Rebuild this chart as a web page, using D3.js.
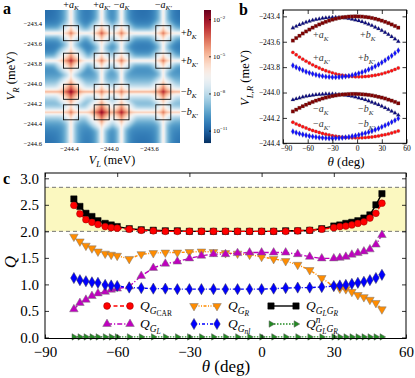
<!DOCTYPE html>
<html lang="en">
<head>
<meta charset="UTF-8">
<script src="https://cdn.jsdelivr.net/npm/d3@7"></script>
<style>
    body { margin: 0; background: #fff; }
    svg { display: block; font-family: 'Liberation Serif', serif; }
    .tick line { stroke: #000; stroke-width: 0.8; }
</style>
</head>
<body>
<svg id="fig" width="415" height="378"></svg>
<script>
// ---- panel a: resonance lines (meV) and spot strengths ----
var aPos = [-244.38, -244.073, -243.875, -243.457];
var bPos = [-243.502, -243.777, -244.088, -244.293];
var aWeight = [6e-7, 4e-7, 3e-7, 3e-7];
var bWeight = [3e-7, 3e-7, 1e-5, 3e-6];
// rows follow bPos, columns follow aPos
var spotPeak = [
    [1e-4, 3e-4, 1e-4, 1e-4],
    [2e-3, 1e-4, 1e-4, 1e-4],
    [1e-2, 1e-4, 1e-4, 2e-3],
    [1e-4, 1e-2, 3e-3, 1e-4]
];
var floorLevel = 1.5e-11;
var aTicksX = [-244.4, -244.0, -243.6];
var aTicksY = [-243.4, -243.6, -243.8, -244.0, -244.2, -244.4, -244.6];
var cbarTicks = [-2, -5, -8, -11];

// ---- panel b: V_{L,R} vs theta ----
var thetaB = [-78,-74,-70,-66,-62,-58,-54,-50,-46,-42,-38,-34,-30,-26,-22,-18,-14,-10,-6,-2,2,6,10,14,18,22,26,30,34,38,42,46,50];
var navyUp = [-243.491,-243.479,-243.467,-243.457,-243.447,-243.439,-243.431,-243.425,-243.420,-243.415,-243.412,-243.410,-243.408,-243.408,-243.409,-243.411,-243.413,-243.417,-243.422,-243.428,-243.435,-243.443,-243.452,-243.462,-243.473,-243.485,-243.498,-243.512,-243.527,-243.543,-243.560,-243.579,-243.598];
var darkUp = [-243.591,-243.571,-243.553,-243.535,-243.519,-243.504,-243.489,-243.476,-243.464,-243.453,-243.443,-243.434,-243.426,-243.419,-243.413,-243.408,-243.405,-243.402,-243.401,-243.400,-243.401,-243.402,-243.405,-243.408,-243.413,-243.419,-243.426,-243.434,-243.443,-243.453,-243.464,-243.476,-243.489];
var redUp = [-243.684,-243.703,-243.721,-243.737,-243.753,-243.768,-243.782,-243.795,-243.807,-243.818,-243.828,-243.837,-243.845,-243.853,-243.859,-243.864,-243.868,-243.872,-243.874,-243.876,-243.876,-243.876,-243.874,-243.872,-243.868,-243.864,-243.859,-243.853,-243.845,-243.837,-243.828,-243.818,-243.807];
var blueUp = [-243.787,-243.801,-243.813,-243.825,-243.836,-243.845,-243.853,-243.860,-243.866,-243.871,-243.875,-243.877,-243.879,-243.879,-243.878,-243.876,-243.873,-243.869,-243.863,-243.857,-243.849,-243.840,-243.830,-243.819,-243.807,-243.794,-243.779,-243.764,-243.747,-243.729,-243.710,-243.690,-243.669];
var navyLo = [-244.058,-244.050,-244.043,-244.036,-244.030,-244.026,-244.021,-244.018,-244.015,-244.014,-244.012,-244.012,-244.012,-244.014,-244.015,-244.018,-244.021,-244.026,-244.030,-244.036,-244.043,-244.050,-244.058,-244.066,-244.076,-244.086,-244.097,-244.108,-244.121,-244.134,-244.148,-244.162,-244.178];
var darkLo = [-244.149,-244.135,-244.121,-244.108,-244.096,-244.085,-244.074,-244.064,-244.056,-244.047,-244.040,-244.034,-244.028,-244.023,-244.019,-244.016,-244.014,-244.012,-244.011,-244.011,-244.012,-244.014,-244.016,-244.019,-244.023,-244.028,-244.034,-244.040,-244.047,-244.056,-244.064,-244.074,-244.085];
var redLo = [-244.234,-244.247,-244.258,-244.270,-244.280,-244.290,-244.299,-244.307,-244.315,-244.322,-244.329,-244.335,-244.340,-244.344,-244.348,-244.351,-244.354,-244.355,-244.357,-244.357,-244.357,-244.356,-244.355,-244.352,-244.350,-244.346,-244.342,-244.337,-244.332,-244.326,-244.319,-244.311,-244.303];
var blueLo = [-244.307,-244.316,-244.324,-244.331,-244.337,-244.343,-244.347,-244.351,-244.355,-244.357,-244.359,-244.360,-244.360,-244.359,-244.358,-244.356,-244.353,-244.350,-244.345,-244.340,-244.334,-244.327,-244.320,-244.312,-244.303,-244.293,-244.283,-244.271,-244.259,-244.247,-244.233,-244.219,-244.204];

// ---- panel c: Q vs theta ----
var thetaC = [-78,-75.5,-73,-70.5,-68,-65,-62.5,-60,-55,-50,-45,-40,-35,-30,-25,-20,-15,-10,-5,0,5,10,15,20,25,30,32.5,35,37.5,40,42.5,45,47.5,50];
var qCAR = [2.49,2.33,2.22,2.17,2.13,2.09,2.07,2.06,2.04,2.02,2.01,2.00,2.00,2.00,2.00,2.00,2.00,2.00,2.00,2.00,2.00,2.00,2.01,2.02,2.04,2.07,2.09,2.10,2.12,2.15,2.18,2.25,2.34,2.53];
var qLR = [2.61,2.47,2.34,2.28,2.20,2.15,2.12,2.09,2.05,2.03,2.02,2.01,2.01,2.00,2.00,2.00,2.00,2.00,2.00,2.00,2.00,2.01,2.01,2.02,2.05,2.10,2.12,2.15,2.17,2.20,2.25,2.31,2.50,2.71];
var qR = [1.90,1.81,1.73,1.68,1.62,1.58,1.56,1.54,1.48,1.57,1.59,1.60,1.60,1.61,1.62,1.61,1.59,1.58,1.56,1.52,1.48,1.44,1.37,1.27,1.12,0.96,0.92,0.91,0.86,0.80,0.76,0.71,0.65,0.53];
var qL = [0.53,0.65,0.71,0.78,0.83,0.86,0.90,0.92,0.96,1.16,1.31,1.39,1.43,1.49,1.54,1.57,1.57,1.59,1.60,1.60,1.60,1.60,1.57,1.52,1.49,1.49,1.50,1.52,1.56,1.59,1.62,1.66,1.75,1.93];
var qNL = [1.12,1.08,1.06,1.04,1.03,0.99,0.98,0.97,0.94,0.93,0.92,0.92,0.91,0.91,0.91,0.91,0.91,0.91,0.91,0.91,0.92,0.93,0.94,0.94,0.95,0.97,0.98,0.99,1.01,1.03,1.05,1.08,1.12,1.18];
var qN = [0.01,0.01,0.01,0.01,0.01,0.01,0.01,0.01,0.01,0.01,0.01,0.01,0.01,0.01,0.01,0.01,0.01,0.01,0.01,0.01,0.01,0.01,0.01,0.01,0.01,0.01,0.01,0.01,0.01,0.01,0.01,0.01,0.01,0.01];
var bellBounds = [2.0, 2.83];

var svg = d3.select("#fig");

// writes text with sub/superscripts; l:1 sub, l:2 subsub, l:-1 super
function rich(sel, segs, size) {
    var cur = 0;
    segs.forEach(function(s) {
        var l = s.l || 0;
        var off = l === 1 ? 0.28 : l === 2 ? 0.45 : l === -1 ? -0.4 : 0;
        var fs = l === 0 ? 1 : l === 2 ? 0.55 : 0.7;
        var ts = sel.append("tspan")
            .attr("dy", (off * size - cur).toFixed(2))
            .attr("font-size", (fs * size).toFixed(2))
            .attr("font-style", s.i ? "italic" : "normal")
            .text(s.t);
        if (s.dx) ts.attr("dx", s.dx);
        cur = off * size;
    });
    return sel;
}
function label(x, y, segs, size, anchor, rot) {
    var t = svg.append("text").attr("text-anchor", anchor || "start").attr("fill", "#000");
    if (rot) t.attr("transform", "translate(" + x + "," + y + ") rotate(" + rot + ")");
    else t.attr("x", x).attr("y", y);
    return rich(t, segs, size);
}
function styleAxis(g, size) {
    g.select(".domain").remove();
    g.selectAll("text").attr("font-family", "'Liberation Serif', serif").attr("font-size", size).attr("fill", "#000");
}
function frameAxes(x, y, size, fmtX, fmtY, tx, ty) {
    var r = x.range(), h = y.range();
    var gb = svg.append("g").attr("transform", "translate(0," + h[0] + ")")
        .call(d3.axisBottom(x).tickValues(tx).tickSize(-4).tickPadding(size > 10 ? 8 : 2).tickFormat(fmtX));
    var gt = svg.append("g").attr("transform", "translate(0," + h[1] + ")")
        .call(d3.axisTop(x).tickValues(tx).tickSize(-4).tickFormat(""));
    var gl = svg.append("g").attr("transform", "translate(" + r[0] + ",0)")
        .call(d3.axisLeft(y).tickValues(ty).tickSize(-4).tickPadding(size > 10 ? 6 : 3).tickFormat(fmtY));
    var gr = svg.append("g").attr("transform", "translate(" + r[1] + ",0)")
        .call(d3.axisRight(y).tickValues(ty).tickSize(-4).tickFormat(""));
    [gb, gt, gl, gr].forEach(function(g) { styleAxis(g, size); });
    svg.append("rect").attr("x", r[0]).attr("y", h[1]).attr("width", r[1] - r[0]).attr("height", h[0] - h[1])
        .attr("fill", "none").attr("stroke", "#000").attr("stroke-width", 1);
    return gb;
}

// ================= panel a =================
var xA = d3.scaleLinear().domain([-244.64, -243.29]).range([45, 180]);
var yA = d3.scaleLinear().domain([-243.27, -244.60]).range([10, 143]);
var logMin = -12, logMax = -1.26;
function heatColor(v) {
    var t = (Math.log10(v) - logMin) / (logMax - logMin);
    t = Math.max(0, Math.min(1, t));
    return d3.interpolateRdBu(1 - t);
}
function lor(d, g) { return g * g / (d * d + g * g); }

var cw = 135, ch = 133;
var canvas = document.createElement("canvas");
canvas.width = cw; canvas.height = ch;
var ctx = canvas.getContext("2d");
var img = ctx.createImageData(cw, ch);
var ax = aPos.map(xA), by = bPos.map(yA);
for (var j = 0; j < ch; j++) {
    for (var i = 0; i < cw; i++) {
        var px = 45 + i + 0.5, py = 10 + j + 0.5, v = floorLevel;
        ax.forEach(function(x0, k) { var l = lor(px - x0, 1.1); v += aWeight[k] * l * l; });
        by.forEach(function(y0, k) { var l = lor(py - y0, 1.1); v += bWeight[k] * l * l; });
        for (var r = 0; r < 4; r++)
            for (var c = 0; c < 4; c++) {
                var dx = px - ax[c], dy = py - by[r];
                v += spotPeak[r][c] * lor(dx, 1) * lor(dy, 1) * Math.exp(-(dx * dx + dy * dy) / 50);
            }
        var col = d3.rgb(heatColor(v)), k = (j * cw + i) * 4;
        img.data[k] = col.r; img.data[k + 1] = col.g; img.data[k + 2] = col.b; img.data[k + 3] = 255;
    }
}
ctx.putImageData(img, 0, 0);
svg.append("image").attr("x", 45).attr("y", 10).attr("width", cw).attr("height", ch)
    .attr("href", canvas.toDataURL());

// boxes around the crossings
var boxes = [];
bPos.forEach(function(b) { aPos.forEach(function(a) { boxes.push([a, b]); }); });
svg.append("g").selectAll("rect").data(boxes).enter().append("rect")
    .attr("x", function(d) { return xA(d[0]) - 7.5; })
    .attr("y", function(d) { return yA(d[1]) - 7.5; })
    .attr("width", 15).attr("height", 15)
    .attr("fill", "none").attr("stroke", "#111").attr("stroke-width", 0.9);

var gay = svg.append("g").attr("transform", "translate(45,0)")
    .call(d3.axisLeft(yA).tickValues(aTicksY).tickSize(0).tickPadding(3).tickFormat(d3.format(".1f")));
styleAxis(gay, 6.5);
var gax = svg.append("g").attr("transform", "translate(0,143)")
    .call(d3.axisBottom(xA).tickValues(aTicksX).tickSize(0).tickPadding(3).tickFormat(d3.format(".1f")));
styleAxis(gax, 6.5);

var aNames = [
    [{t: "+"}, {t: "a", i: 1}, {t: "K", i: 1, l: 1}],
    [{t: "+"}, {t: "a", i: 1}, {t: "K′", i: 1, l: 1}],
    [{t: "−"}, {t: "a", i: 1}, {t: "K", i: 1, l: 1}],
    [{t: "−"}, {t: "a", i: 1}, {t: "K′", i: 1, l: 1}]
];
var bNames = [
    [{t: "+"}, {t: "b", i: 1}, {t: "K", i: 1, l: 1}],
    [{t: "+"}, {t: "b", i: 1}, {t: "K′", i: 1, l: 1}],
    [{t: "−"}, {t: "b", i: 1}, {t: "K", i: 1, l: 1}],
    [{t: "−"}, {t: "b", i: 1}, {t: "K′", i: 1, l: 1}]
];
aPos.forEach(function(a, k) { label(xA(a), 7.5, aNames[k], 10, "middle"); });
bPos.forEach(function(b, k) { label(181, yA(b) + 3, bNames[k], 10, "start"); });

label(112, 164, [{t: "V", i: 1}, {t: "L", i: 1, l: 1}, {t: " (meV)"}], 12, "middle");
label(15, 76, [{t: "V", i: 1}, {t: "R", i: 1, l: 1}, {t: " (meV)"}], 12.5, "middle", -90);

// colour bar
var cScale = d3.scaleLog().domain([1e-12, Math.pow(10, logMax)]).range([143, 10]);
var cRows = d3.range(10, 143);
svg.append("g").selectAll("rect").data(cRows).enter().append("rect")
    .attr("x", 204).attr("y", function(d) { return d; }).attr("width", 7).attr("height", 1.05)
    .attr("fill", function(d) { return heatColor(cScale.invert(d + 0.5)); });
var gc = svg.append("g").attr("transform", "translate(211,0)")
    .call(d3.axisRight(cScale).tickValues(cbarTicks.map(function(e) { return Math.pow(10, e); })).tickSize(-2).tickPadding(2).tickFormat(""));
gc.select(".domain").remove();
cbarTicks.forEach(function(e) {
    label(213, cScale(Math.pow(10, e)) + 2.5, [{t: "10"}, {t: "−" + Math.abs(e), l: -1}], 7, "start");
});

// ================= panel b =================
var xB = d3.scaleLinear().domain([-90, 60]).range([283, 406.5]);
var yB = d3.scaleLinear().domain([-244.4, -243.35]).range([143.3, 10]);
var bSeries = [
    {v: navyUp, c: "#0a0a80", s: d3.symbolTriangle, z: 8},
    {v: darkUp, c: "#800000", s: d3.symbolSquare, z: 12},
    {v: redUp, c: "#ff1010", s: d3.symbolCircle, z: 9},
    {v: blueUp, c: "#1010ff", s: d3.symbolDiamond, z: 10},
    {v: navyLo, c: "#0a0a80", s: d3.symbolTriangle, z: 8},
    {v: darkLo, c: "#800000", s: d3.symbolSquare, z: 12},
    {v: redLo, c: "#ff1010", s: d3.symbolCircle, z: 9},
    {v: blueLo, c: "#1010ff", s: d3.symbolDiamond, z: 10}
];
bSeries.forEach(function(sr) {
    svg.append("g").selectAll("path").data(sr.v).enter().append("path")
        .attr("transform", function(d, k) { return "translate(" + xB(thetaB[k]) + "," + yB(d) + ")"; })
        .attr("d", d3.symbol().type(sr.s).size(sr.z))
        .attr("fill", sr.c).attr("stroke", "#666").attr("stroke-width", 0.2);
});
var gbB = frameAxes(xB, yB, 7.5, d3.format("d"), d3.format(".1f"), [-90, -60, -30, 0, 30, 60],
    [-243.4, -243.6, -243.8, -244.0, -244.2, -244.4]);
// nudge the corner label clear of the lowest y label
gbB.selectAll(".tick text").filter(function(d) { return d === -90; }).attr("dx", 3);

var bTexts = [
    [313, 38, aNames[0]], [360, 38, bNames[0]],
    [313, 61, aNames[1]], [358, 61, bNames[1]],
    [313, 112, aNames[2]], [358, 112, bNames[2]],
    [313, 127, aNames[3]], [358, 127, bNames[3]]
];
bTexts.forEach(function(d) { label(d[0], d[1], d[2], 10, "start").attr("fill", "#333"); });

label(346, 166, [{t: "θ", i: 1}, {t: " (deg)"}], 13, "middle");
label(249, 78, [{t: "V", i: 1}, {t: "L,R", i: 1, l: 1}, {t: " (meV)"}], 12.5, "middle", -90);

// ================= panel c =================
var xC = d3.scaleLinear().domain([-90, 60]).range([45, 406]);
var yC = d3.scaleLinear().domain([-0.02, 3.1]).range([338.5, 173]);

svg.append("rect").attr("x", 45).attr("y", yC(bellBounds[1])).attr("width", 361)
    .attr("height", yC(bellBounds[0]) - yC(bellBounds[1])).attr("fill", "#fbf8c0");
bellBounds.forEach(function(b) {
    svg.append("line").attr("x1", 45).attr("x2", 406).attr("y1", yC(b)).attr("y2", yC(b))
        .attr("stroke", "#666").attr("stroke-width", 0.9).attr("stroke-dasharray", "4,3");
});

var cSeries = [
    {v: qLR, c: "#000", s: d3.symbolSquare, z: 40, dash: null, ec: "#000"},
    {v: qCAR, c: "#ff0000", s: d3.symbolCircle, z: 36, dash: "4,2.5", ec: "#900"},
    {v: qR, c: "#ff8c00", s: d3.symbolTriangle, z: 32, rot: 180, dash: "3,1.5,1,1.5,1,1.5", ec: "#777"},
    {v: qL, c: "#bf00bf", s: d3.symbolTriangle, z: 32, dash: "5,2,1.2,2", ec: "#777"},
    {v: qNL, c: "#0000ff", s: d3.symbolDiamond, z: 36, dash: "3,2,1,2", ec: "#335"},
    {v: qN, c: "#228b22", s: d3.symbolTriangle, z: 18, rot: 90, dash: "1.5,1.5", ec: "#555"}
];
var lineC = d3.line().x(function(d) { return xC(d[0]); }).y(function(d) { return yC(d[1]); });
cSeries.forEach(function(sr) {
    var pts = sr.v.map(function(q, k) { return [thetaC[k], q]; });
    svg.append("path").attr("d", lineC(pts)).attr("fill", "none").attr("stroke", sr.c)
        .attr("stroke-width", 1.4).attr("stroke-dasharray", sr.dash);
    svg.append("g").selectAll("path").data(pts).enter().append("path")
        .attr("transform", function(d) { return "translate(" + xC(d[0]) + "," + yC(d[1]) + ") rotate(" + (sr.rot || 0) + ")"; })
        .attr("d", d3.symbol().type(sr.s).size(sr.z))
        .attr("fill", sr.c).attr("stroke", sr.ec).attr("stroke-width", 0.5);
});
frameAxes(xC, yC, 15, d3.format("d"), d3.format(".1f"), [-90, -60, -30, 0, 30, 60],
    [0, 0.5, 1, 1.5, 2, 2.5, 3]);

// legend: [series index, name]
var legendItems = [
    [1, [{t: "Q", i: 1}, {t: "G", i: 1, l: 1}, {t: "CAR", l: 2}]],
    [2, [{t: "Q", i: 1}, {t: "G", i: 1, l: 1}, {t: "R", i: 1, l: 2}]],
    [0, [{t: "Q", i: 1}, {t: "G", i: 1, l: 1}, {t: "L", i: 1, l: 2}, {t: "G", i: 1, l: 1}, {t: "R", i: 1, l: 2}]],
    [3, [{t: "Q", i: 1}, {t: "G", i: 1, l: 1}, {t: "L", i: 1, l: 2}]],
    [4, [{t: "Q", i: 1}, {t: "G", i: 1, l: 1}, {t: "nl", i: 1, l: 2}]],
    [5, [{t: "Q", i: 1}, {t: "n", i: 1, l: -1}, {t: "G", i: 1, l: 1, dx: -5}, {t: "L", i: 1, l: 2}, {t: "G", i: 1, l: 1}, {t: "R", i: 1, l: 2}]]
];
var legendCols = [[107, 130, 140], [194, 217, 228], [271, 296, 306]];
var legendRows = [306, 324];
legendItems.forEach(function(item, k) {
    var sr = cSeries[item[0]], col = legendCols[k % 3], yy = legendRows[Math.floor(k / 3)];
    svg.append("line").attr("x1", col[0]).attr("x2", col[1]).attr("y1", yy).attr("y2", yy)
        .attr("stroke", sr.c).attr("stroke-width", 1.4).attr("stroke-dasharray", sr.dash);
    [col[0], col[1]].forEach(function(xx) {
        svg.append("path").attr("transform", "translate(" + xx + "," + yy + ") rotate(" + (sr.rot || 0) + ")")
            .attr("d", d3.symbol().type(sr.s).size(sr.z)).attr("fill", sr.c).attr("stroke", sr.ec).attr("stroke-width", 0.5);
    });
    label(col[2], yy + 4, item[1], 13.5, "start");
});

label(226, 372, [{t: "θ", i: 1}, {t: " (deg)"}], 17, "middle");
label(16, 262, [{t: "Q", i: 1}], 17, "middle", -90);

// panel letters
svg.append("text").attr("x", 3).attr("y", 14).attr("font-size", 16).attr("font-weight", "bold").text("a");
svg.append("text").attr("x", 239).attr("y", 15).attr("font-size", 16).attr("font-weight", "bold").text("b");
svg.append("text").attr("x", 3).attr("y", 184).attr("font-size", 16).attr("font-weight", "bold").text("c");
</script>
</body>
</html>
